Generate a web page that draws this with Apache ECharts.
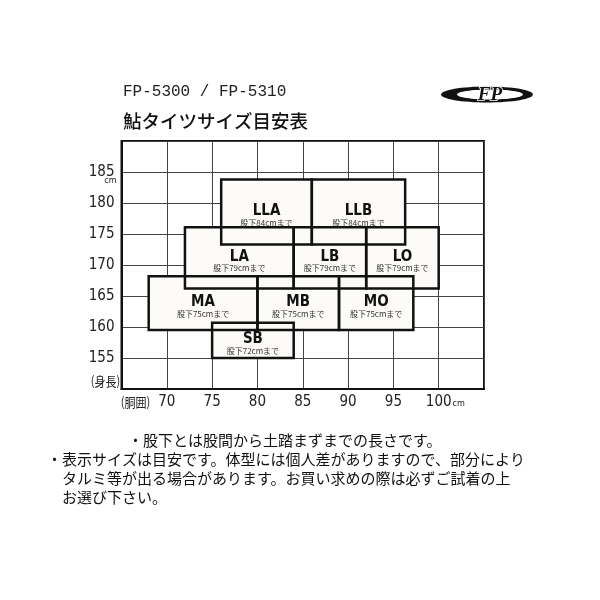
<!DOCTYPE html>
<html>
<head>
<meta charset="utf-8">
<script src="https://cdn.jsdelivr.net/npm/echarts@6/dist/echarts.min.js"></script>
<style>html,body{margin:0;padding:0;background:#fff;}#main{width:600px;height:600px;}</style>
</head>
<body>
<div id="main"></div>
<script>
// ---- data ----
const sizeNames  = ['LLA', 'LLB', 'LA', 'LB', 'LO', 'MA', 'MB', 'MO', 'SB'];
const waistFrom  = [76, 86, 72, 84, 92, 68, 80, 89, 75];
const waistTo    = [86, 96.3, 84, 92, 100, 80, 89, 97.2, 84];
const heightFrom = [173.3, 173.3, 166.2, 166.2, 166.2, 159.5, 159.5, 159.5, 155];
const heightTo   = [183.8, 183.8, 176.1, 176.1, 176.1, 168.2, 168.2, 168.2, 160.7];
const inseamText = ['股下84cmまで', '股下84cmまで', '股下79cmまで', '股下79cmまで', '股下79cmまで',
                    '股下75cmまで', '股下75cmまで', '股下75cmまで', '股下72cmまで'];
const xTicks = [70, 75, 80, 85, 90, 95, 100];
const yTicks = [155, 160, 165, 170, 175, 180, 185];
const titleLine1 = 'FP-5300 / FP-5310';
const titleLine2 = '鮎タイツサイズ目安表';
const notes = [
  '・股下とは股間から土踏まずまでの長さです。',
  '・表示サイズは目安です。体型には個人差がありますので、部分により',
  'タルミ等が出る場合があります。お買い求めの際は必ずご試着の上',
  'お選び下さい。'
];

const boxData = sizeNames.map((n, i) => [waistFrom[i], waistTo[i], heightFrom[i], heightTo[i], n, inseamText[i]]);

const NARROW = '"Liberation Sans Narrow", "DejaVu Sans Condensed", "Liberation Sans", sans-serif';
const JP = '"Noto Sans CJK JP", sans-serif';

const chart = echarts.init(document.getElementById('main'), null, {renderer: 'canvas'});

function rectOf(api) {
  const p0 = api.coord([api.value(0), api.value(3)]);
  const p1 = api.coord([api.value(1), api.value(2)]);
  return {x: p0[0], y: p0[1], width: p1[0] - p0[0], height: p1[1] - p0[1]};
}

const option = {
  backgroundColor: '#ffffff',
  animation: false,
  grid: {left: 121.5, right: 116, top: 141, bottom: 211, show: true,
         borderColor: '#111', borderWidth: 2, backgroundColor: '#fff'},
  xAxis: {
    type: 'value', min: 65, max: 105, interval: 5,
    axisLine: {show: true, lineStyle: {color: '#111', width: 2}},
    axisTick: {show: false},
    splitLine: {show: true, lineStyle: {color: '#444', width: 1}},
    axisLabel: {
      margin: 6, color: '#222', fontFamily: NARROW, fontSize: 15,
      formatter: v => xTicks.indexOf(v) >= 0 ? String(v) : ''
    }
  },
  yAxis: {
    type: 'value', min: 150, max: 190, interval: 5,
    axisLine: {show: true, lineStyle: {color: '#111', width: 2}},
    axisTick: {show: false},
    splitLine: {show: true, lineStyle: {color: '#444', width: 1}},
    axisLabel: {
      margin: 7, color: '#222', fontFamily: NARROW, fontSize: 15,
      formatter: v => yTicks.indexOf(v) >= 0 ? String(v) : ''
    }
  },
  series: [
    {
      type: 'custom', z: 2, data: boxData,
      encode: {x: [0, 1], y: [2, 3]},
      renderItem: (params, api) => ({
        type: 'rect', shape: rectOf(api), style: {fill: '#fcfbf8'}
      })
    },
    {
      type: 'custom', z: 3, data: boxData,
      encode: {x: [0, 1], y: [2, 3]},
      renderItem: (params, api) => {
        const r = rectOf(api);
        const cx = r.x + r.width / 2;
        const cy = r.y + r.height / 2;
        const d = boxData[params.dataIndex];
        return {
          type: 'group',
          children: [
            {type: 'rect', shape: r, style: {fill: 'none', stroke: '#111', lineWidth: 2.5}},
            {type: 'text', x: cx, y: cy - 1,
             style: {text: d[4], fill: '#111', align: 'center', verticalAlign: 'middle',
                     font: 'bold 15px ' + NARROW}},
            {type: 'text', x: cx, y: cy + 10.5,
             style: {text: d[5], fill: '#333', align: 'center', verticalAlign: 'middle',
                     font: '8px ' + JP}}
          ]
        };
      }
    }
  ]
};
chart.setOption(option);

// axis-related extra texts placed through the chart's scales
const p185 = chart.convertToPixel({gridIndex: 0}, [65, 185]);
const p150 = chart.convertToPixel({gridIndex: 0}, [65, 150]);
const p100 = chart.convertToPixel({gridIndex: 0}, [100, 150]);

chart.setOption({
  graphic: [
    {type: 'text', left: 123, top: 84,
     style: {text: titleLine1, font: '16px "Liberation Mono", "DejaVu Sans Mono", monospace', fill: '#222'}},
    {type: 'text', left: 123, top: 112,
     style: {text: titleLine2, font: '500 18.5px ' + JP, fill: '#111'}},
    // logo
    {type: 'ellipse', shape: {cx: 487, cy: 94.5, rx: 46, ry: 8}, style: {fill: '#111'}},
    {type: 'ellipse', shape: {cx: 490, cy: 94.5, rx: 33, ry: 5}, style: {fill: '#fff'}},
    {type: 'text', x: 490, y: 95,
     style: {text: 'FP', font: 'italic bold 19px "Liberation Serif", serif', fill: '#111',
             align: 'center', verticalAlign: 'middle', stroke: '#fff', lineWidth: 1.5}},
    // axis extras
    {type: 'text', x: p185[0] - 11, y: p185[1] + 9,
     style: {text: 'cm', font: '9px ' + NARROW, fill: '#222', align: 'center', verticalAlign: 'middle'}},
    {type: 'text', x: p150[0] - 16, y: p150[1] - 8, scaleX: 0.85,
     style: {text: '(身長)', font: '13px ' + JP, fill: '#222', align: 'center', verticalAlign: 'middle'}},
    {type: 'text', x: p150[0] + 14, y: p150[1] + 13, scaleX: 0.85,
     style: {text: '(胴囲)', font: '13px ' + JP, fill: '#222', align: 'center', verticalAlign: 'middle'}},
    {type: 'text', x: p100[0] + 20, y: p100[1] + 15,
     style: {text: 'cm', font: '9px ' + NARROW, fill: '#222', align: 'center', verticalAlign: 'middle'}},
    // notes
    {type: 'text', x: 128, y: 440, style: {text: notes[0], font: '15px ' + JP, fill: '#111', verticalAlign: 'middle'}},
    {type: 'text', x: 47, y: 459, style: {text: notes[1], font: '15px ' + JP, fill: '#111', verticalAlign: 'middle'}},
    {type: 'text', x: 62, y: 478, style: {text: notes[2], font: '15px ' + JP, fill: '#111', verticalAlign: 'middle'}},
    {type: 'text', x: 62, y: 497, style: {text: notes[3], font: '15px ' + JP, fill: '#111', verticalAlign: 'middle'}}
  ]
});
</script>
</body>
</html>
